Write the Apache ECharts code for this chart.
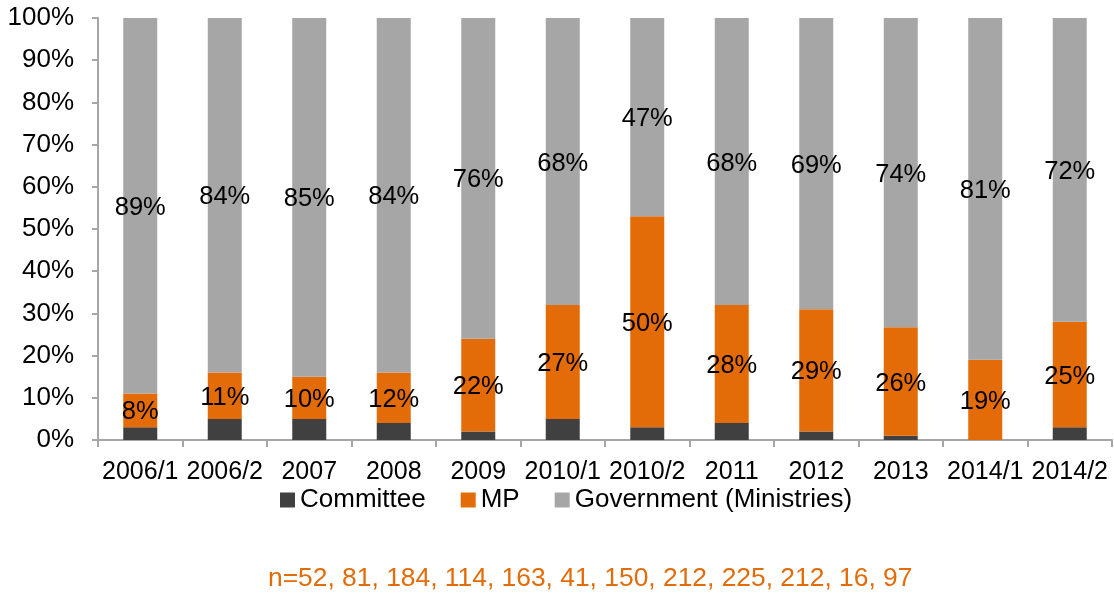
<!DOCTYPE html>
<html>
<head>
<meta charset="utf-8">
<script src="https://cdn.jsdelivr.net/npm/echarts@6/dist/echarts.min.js"></script>
<style>
  html, body { margin: 0; padding: 0; background: #ffffff; }
  #chart { width: 1114px; height: 596px; }
</style>
</head>
<body>
<div id="chart"></div>
<script>
// Periods on the category axis
const periods = ['2006/1', '2006/2', '2007', '2008', '2009', '2010/1', '2010/2', '2011', '2012', '2013', '2014/1', '2014/2'];

// Share of items by source, in percent
const committee = [3, 5, 5, 4, 2, 5, 3, 4, 2, 1, 0, 3];
const mp = [8, 11, 10, 12, 22, 27, 50, 28, 29, 26, 19, 25];
const government = [89, 84, 85, 84, 76, 68, 47, 68, 69, 74, 81, 72];

// Sample sizes per period
const sampleSizes = [52, 81, 184, 114, 163, 41, 150, 212, 225, 212, 16, 97];

const yTicks = [0, 10, 20, 30, 40, 50, 60, 70, 80, 90, 100];

const FONT = 'Liberation Sans, Arial, sans-serif';

// Each column is scaled to a 100% total
const totals = periods.map((_, i) => committee[i] + mp[i] + government[i]);
const toShare = (arr) => arr.map((v, i) => (totals[i] ? v / totals[i] * 100 : 0));

const chart = echarts.init(document.getElementById('chart'), null, { renderer: 'canvas' });

function segment(name, raw, color, withLabel) {
  return {
    name: name,
    type: 'bar',
    stack: 'share',
    barWidth: 34,
    data: toShare(raw),
    itemStyle: { color: color },
    emphasis: { disabled: true },
    label: {
      show: withLabel,
      position: 'inside',
      offset: [0, 2],
      color: '#000000',
      fontFamily: FONT,
      fontSize: 25.5,
      formatter: (p) => raw[p.dataIndex] + '%'
    }
  };
}

chart.setOption({
  animation: false,
  textStyle: { fontFamily: FONT },
  grid: { left: 98, right: 2, top: 18, bottom: 156 },
  legend: {
    top: 482,
    left: 275,
    icon: 'rect',
    itemWidth: 15,
    itemHeight: 15,
    itemGap: 35,
    textStyle: { fontFamily: FONT, fontSize: 26, color: '#000000' },
    data: ['Committee', 'MP', 'Government (Ministries)']
  },
  xAxis: {
    type: 'category',
    data: periods,
    axisLine: { lineStyle: { color: '#A6A6A6', width: 2 } },
    axisTick: { show: true, length: 7, lineStyle: { color: '#A6A6A6', width: 2 } },
    axisLabel: { color: '#000000', fontFamily: FONT, fontSize: 25, margin: 20, interval: 0 }
  },
  yAxis: {
    type: 'value',
    min: yTicks[0],
    max: yTicks[yTicks.length - 1],
    interval: yTicks[1] - yTicks[0],
    axisLine: { show: true, lineStyle: { color: '#A6A6A6', width: 2 } },
    axisTick: { show: true, length: 6, lineStyle: { color: '#A6A6A6', width: 2 } },
    splitLine: { show: false },
    axisLabel: { color: '#000000', fontFamily: FONT, fontSize: 26, margin: 24, formatter: '{value}%' }
  },
  series: [
    segment('Committee', committee, '#404040', false),
    segment('MP', mp, '#E36C09', true),
    segment('Government (Ministries)', government, '#A6A6A6', true)
  ],
  graphic: [{
    type: 'text',
    left: 268,
    top: 566,
    style: {
      text: 'n=' + sampleSizes.join(', '),
      fontFamily: FONT,
      fontSize: 26.4,
      fill: '#E36C09'
    }
  }]
});
</script>
</body>
</html>
